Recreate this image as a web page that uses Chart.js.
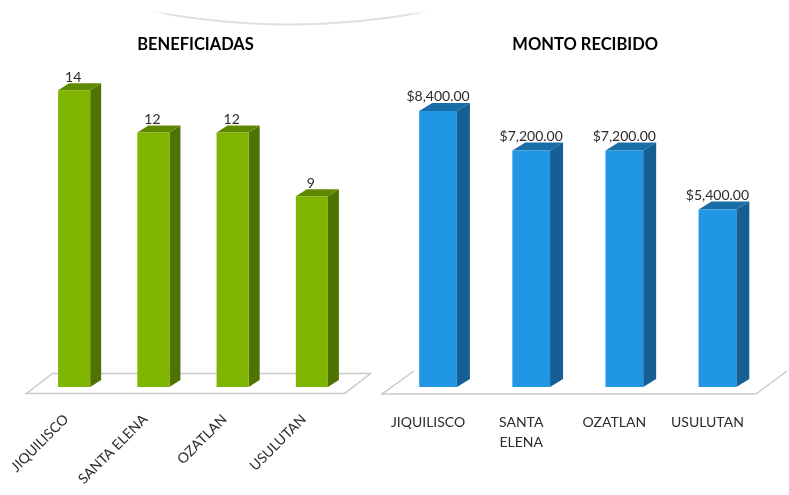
<!DOCTYPE html>
<html>
<head>
<meta charset="utf-8">
<script src="https://cdn.jsdelivr.net/npm/chart.js@4"></script>
<style>
html,body{margin:0;padding:0;background:#fff;width:789px;height:495px;overflow:hidden}
canvas{position:absolute;top:0;filter:blur(0.45px)}
#arc{position:absolute;left:0;top:0;filter:blur(0.6px)}
#c1{left:0}
#c2{left:381px}
</style>
</head>
<body>
<svg id="arc" width="789" height="495">
<defs><linearGradient id="g" x1="0" x2="1" y1="0" y2="0">
<stop offset="0" stop-color="#e6e6e6" stop-opacity="0"/>
<stop offset=".08" stop-color="#e0e0e0"/>
<stop offset=".92" stop-color="#e0e0e0"/>
<stop offset="1" stop-color="#e6e6e6" stop-opacity="0"/>
</linearGradient></defs>
<path d="M150 11 Q288 38 430 11" fill="none" stroke="url(#g)" stroke-width="2"/>
</svg>
<canvas id="c1" width="391" height="495"></canvas>
<canvas id="c2" width="408" height="495"></canvas>
<script>
const categories = ["JIQUILISCO","SANTA ELENA","OZATLAN","USULUTAN"];
const categoriesWrapped = ["JIQUILISCO",["SANTA","ELENA"],"OZATLAN","USULUTAN"];
const beneficiadas = [14,12,12,9];
const montoRecibido = [8400,7200,7200,5400];
const FONT = 'Lato';

function bar3d(opts){
  return {
    id:'bar3d',
    afterLayout(chart){
      const t=chart.titleBlock;
      if(t){t.left+=opts.titleShift;t.right+=opts.titleShift;}
    },
    beforeDatasetsDraw(chart){
      const ctx=chart.ctx, a=chart.chartArea, f=opts.floor(a);
      ctx.save();
      ctx.beginPath();
      f.forEach((p,i)=>{ if(i===0)ctx.moveTo(p[0],p[1]); else ctx.lineTo(p[0],p[1]); });
      if(opts.closed) ctx.closePath();
      ctx.strokeStyle='#c9c9c9';ctx.lineWidth=1.5;ctx.stroke();
      const dx=opts.dx,dy=opts.dy;
      chart.getDatasetMeta(0).data.forEach(b=>{
        const l=b.x-b.width/2,r=b.x+b.width/2,t=b.y,bt=b.base;
        ctx.fillStyle=opts.side;
        ctx.beginPath();ctx.moveTo(r,t);ctx.lineTo(r+dx,t-dy);ctx.lineTo(r+dx,bt-dy);ctx.lineTo(r,bt);ctx.closePath();ctx.fill();
        ctx.fillStyle=opts.top;
        ctx.beginPath();ctx.moveTo(l,t);ctx.lineTo(l+dx,t-dy);ctx.lineTo(r+dx,t-dy);ctx.lineTo(r,t);ctx.closePath();ctx.fill();
      });
      ctx.restore();
    },
    afterDatasetsDraw(chart){
      const ctx=chart.ctx, ds=chart.data.datasets[0];
      ctx.save();
      ctx.font='14px '+FONT;ctx.fillStyle='#2b2b2b';ctx.textAlign='center';ctx.textBaseline='middle';
      chart.getDatasetMeta(0).data.forEach((b,i)=>{
        ctx.fillText(opts.fmt(ds.data[i]),b.x+opts.lx,b.y-opts.dy-opts.ly);
      });
      ctx.restore();
    }
  };
}
function makeChart(id,labels,values,cfg){
  return new Chart(document.getElementById(id),{
    type:'bar',
    data:{labels,datasets:[{data:values,backgroundColor:cfg.front,borderWidth:0,barPercentage:cfg.barPct,categoryPercentage:1}]},
    options:{
      responsive:false,animation:false,
      layout:{padding:cfg.padding},
      plugins:{
        legend:{display:false},tooltip:{enabled:false},
        title:{display:true,text:cfg.title,color:'#000',font:{family:FONT,size:16.5,weight:'bold',lineHeight:1.2},padding:{top:35,bottom:cfg.titleGap}}
      },
      scales:{
        x:{
          grid:{display:false},border:{display:false},
          ticks:{color:'#2b2b2b',font:{family:FONT,size:cfg.tickSize,lineHeight:cfg.tickLH},minRotation:cfg.rot,maxRotation:cfg.rot,padding:cfg.tickPad,autoSkip:false},
          afterFit(s){
            s.height=108;s.paddingLeft=0;s.paddingRight=0;
            if(!s._shifted){
              s._shifted=true;
              const orig=s._computeLabelItems;
              s._computeLabelItems=function(area){
                const items=orig.call(this,area);
                items.forEach(it=>{it.options.translation=[it.options.translation[0]+cfg.tickShift,it.options.translation[1]];});
                return items;
              };
            }
          }
        },
        y:{display:false,min:0,max:cfg.max}
      }
    },
    plugins:[bar3d(cfg.d3)]
  });
}
makeChart('c1',categories,beneficiadas,{
  title:'BENEFICIADAS',titleGap:14.2,max:15,front:'#7fb500',barPct:0.405,
  padding:{left:34.5,right:39.5,top:0,bottom:0},rot:45,tickSize:14,tickLH:1.2,tickPad:16,tickShift:-8,
  d3:{titleShift:2.5,dx:11,dy:7,side:'#4f7300',top:'#5f8a00',lx:-1,ly:6,closed:true,fmt:v=>String(v),
      floor:a=>[[a.left-8,a.bottom+6.5],[a.right-7,a.bottom+6.5],[a.right+19,a.bottom-13.5],[a.left+18,a.bottom-13.5]]}
});
makeChart('c2',categoriesWrapped,montoRecibido,{
  title:'MONTO RECIBIDO',titleGap:3.6,max:10000,front:'#2196e3',barPct:0.405,
  padding:{left:10.5,right:25,top:0,bottom:0},rot:0,tickSize:14,tickLH:1.43,tickPad:17,tickShift:-10,
  d3:{titleShift:7.5,dx:13,dy:8,side:'#155f94',top:'#1a6ea8',lx:0,ly:6,closed:false,fmt:v=>'$'+v.toLocaleString('en-US',{minimumFractionDigits:2}),
      floor:a=>[[a.left-9.5+32,a.bottom-16],[a.left-9.5,a.bottom+7],[a.right-8,a.bottom+7],[a.right+23,a.bottom-16]]}
});
</script>
</body>
</html>
